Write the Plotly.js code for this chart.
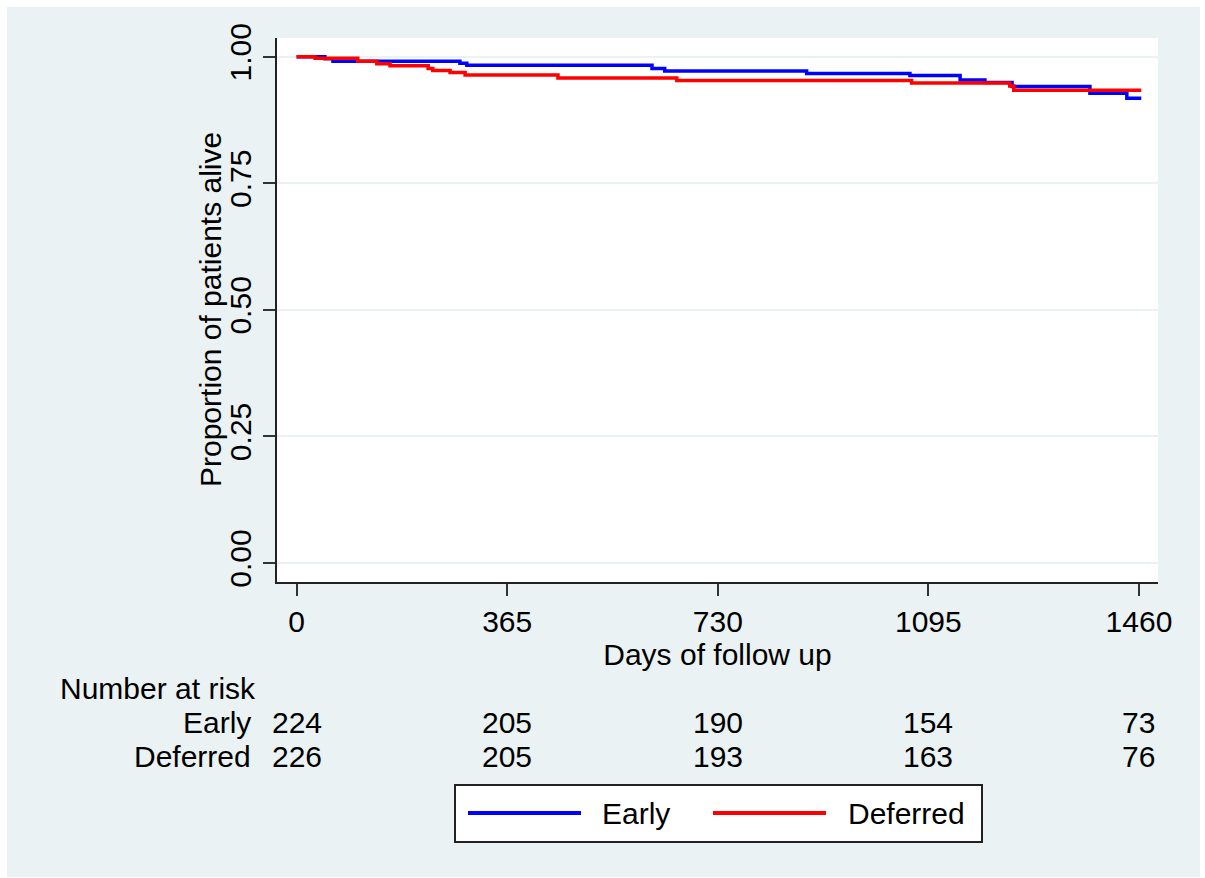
<!DOCTYPE html>
<html>
<head>
<meta charset="utf-8">
<script src="https://cdn.plot.ly/plotly-3.0.1.min.js"></script>
<style>
  html, body { margin: 0; padding: 0; background: #ffffff; }
  #chart { position: absolute; left: 7px; top: 7px; width: 1193px; height: 870px; }
</style>
</head>
<body>
<div id="chart"></div>
<script>
// Kaplan-Meier step data (days, proportion alive)
const earlyDays = [0, 49, 63, 283, 295, 616, 638, 884, 1063, 1150, 1193, 1240, 1375, 1439, 1464];
const earlySurv = [1.0, 0.996, 0.991, 0.987, 0.983, 0.977, 0.972, 0.967, 0.963, 0.954, 0.949, 0.941, 0.928, 0.918, 0.918];

const deferredDays = [0, 32, 106, 139, 162, 228, 236, 266, 292, 453, 659, 1066, 1236, 1243, 1464];
const deferredSurv = [1.0, 0.997, 0.991, 0.986, 0.982, 0.977, 0.973, 0.969, 0.964, 0.958, 0.953, 0.948, 0.942, 0.934, 0.934];

// Axis ticks
const xTicks = [0, 365, 730, 1095, 1460];
const yTicks = [0, 0.25, 0.5, 0.75, 1.0];
const yTickLabels = ["0.00", "0.25", "0.50", "0.75", "1.00"];
const xTitle = "Days of follow up";
const yTitle = "Proportion of patients alive";

// Number at risk table
const riskDays = [0, 365, 730, 1095, 1460];
const earlyRisk = [224, 205, 190, 154, 73];
const deferredRisk = [226, 205, 193, 163, 76];

const groupNames = ["Early", "Deferred"];
const groupColors = ["#0000ff", "#ff0000"];

const FONT = "Liberation Sans, Arial, Helvetica, sans-serif";
const FS = 30;

const traces = [
  {x: earlyDays, y: earlySurv, name: groupNames[0], type: "scatter", mode: "lines",
   line: {shape: "hv", color: groupColors[0], width: 3.5}, showlegend: false},
  {x: deferredDays, y: deferredSurv, name: groupNames[1], type: "scatter", mode: "lines",
   line: {shape: "hv", color: groupColors[1], width: 3.5}, showlegend: false}
];

// Paper-coordinate helpers (plot area: 881 x 544 px)
const PW = 881, PH = 544;
const px = v => v / PW;
const py = v => v / PH;

const annotations = [];
// y axis title (placed closer to the tick labels than Plotly's minimum standoff allows)
annotations.push({text: yTitle, xref: "paper", yref: "paper", x: px(210 - 277), y: 0.5,
  textangle: -90, xanchor: "center", yanchor: "middle", showarrow: false,
  font: {family: FONT, size: FS, color: "#000"}});
annotations.push({text: "Number at risk", xref: "paper", yref: "paper", x: px(58 - 277), y: py(582 - 688),
  xanchor: "left", yanchor: "middle", showarrow: false, font: {family: FONT, size: FS, color: "#000"}});
const rowY = [py(582 - 722), py(582 - 756)];
const rows = [earlyRisk, deferredRisk];
groupNames.forEach((g, i) => {
  annotations.push({text: g, xref: "paper", yref: "paper", x: px(253 - 277), y: rowY[i],
    xanchor: "right", yanchor: "middle", showarrow: false, font: {family: FONT, size: FS, color: "#000"}});
  riskDays.forEach((d, j) => {
    annotations.push({text: String(rows[i][j]), xref: "x", yref: "paper", x: d, y: rowY[i],
      xanchor: "center", yanchor: "middle", showarrow: false, font: {family: FONT, size: FS, color: "#000"}});
  });
});

// Custom legend box
const legY = py(582 - 813);
const shapes = [
  {type: "rect", xref: "paper", yref: "paper", x0: px(455 - 277), x1: px(982 - 277),
   y0: py(582 - 842), y1: py(582 - 785), fillcolor: "#ffffff", line: {color: "#222", width: 2}},
  {type: "line", xref: "paper", yref: "paper", x0: px(468 - 277), x1: px(581 - 277), y0: legY, y1: legY,
   line: {color: groupColors[0], width: 4}},
  {type: "line", xref: "paper", yref: "paper", x0: px(713 - 277), x1: px(826 - 277), y0: legY, y1: legY,
   line: {color: groupColors[1], width: 4}}
];
annotations.push({text: groupNames[0], xref: "paper", yref: "paper", x: px(600 - 277), y: legY,
  xanchor: "left", yanchor: "middle", showarrow: false, font: {family: FONT, size: FS, color: "#000"}});
annotations.push({text: groupNames[1], xref: "paper", yref: "paper", x: px(846 - 277), y: legY,
  xanchor: "left", yanchor: "middle", showarrow: false, font: {family: FONT, size: FS, color: "#000"}});

const layout = {
  width: 1193, height: 870,
  margin: {l: 270, r: 42, t: 31, b: 295},
  paper_bgcolor: "#eaf2f3",
  plot_bgcolor: "#ffffff",
  font: {family: FONT, size: FS, color: "#000"},
  showlegend: false,
  xaxis: {
    range: [-34, 1493], tickvals: xTicks, ticktext: xTicks.map(String),
    showgrid: false, zeroline: false, showline: true, linecolor: "#222", linewidth: 2,
    ticks: "outside", ticklen: 12, tickwidth: 2, tickcolor: "#333",
    tickfont: {family: FONT, size: FS, color: "#000"},
    title: {text: xTitle, font: {family: FONT, size: FS, color: "#000"}, standoff: 4},
    automargin: false, fixedrange: true
  },
  yaxis: {
    range: [-0.0375, 1.037], tickvals: yTicks, ticktext: yTickLabels, tickangle: -90,
    showgrid: true, gridcolor: "#eaf2f3", gridwidth: 2, zeroline: false,
    showline: true, linecolor: "#222", linewidth: 2,
    ticks: "outside", ticklen: 12, tickwidth: 2, tickcolor: "#333",
    tickfont: {family: FONT, size: FS, color: "#000"},
    automargin: false, fixedrange: true
  },
  shapes: shapes,
  annotations: annotations
};

Plotly.newPlot("chart", traces, layout, {displayModeBar: false, staticPlot: true});
</script>
</body>
</html>
